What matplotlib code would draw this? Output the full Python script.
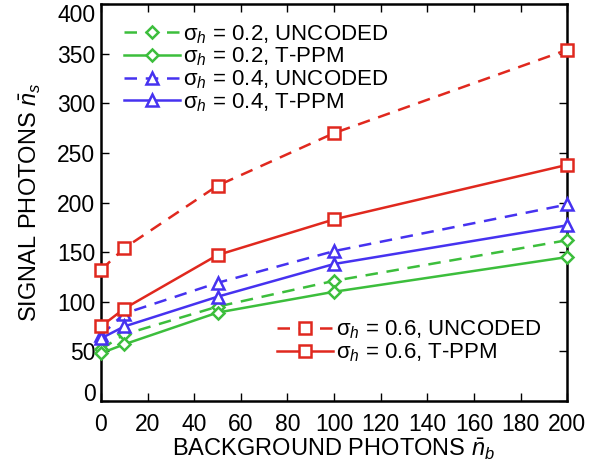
import numpy as np
import matplotlib
matplotlib.use('Agg')
import matplotlib.pyplot as plt

plt.rcParams['font.family'] = ['Liberation Sans', 'DejaVu Sans']
plt.rcParams['mathtext.fontset'] = 'custom'
plt.rcParams['mathtext.rm'] = 'Liberation Sans'
plt.rcParams['mathtext.it'] = 'Liberation Sans:italic'

# background photons
nb = [0, 10, 50, 100, 200]

# signal photons
uncoded_02 = [52, 67, 95, 121, 162]
tppm_02 = [48, 57, 89, 110, 145]
uncoded_04 = [66, 88, 119, 151, 198]
tppm_04 = [63, 75, 105, 138, 177]
uncoded_06 = [132, 154, 217, 270, 354]
tppm_06 = [75, 93, 147, 183, 238]

red = '#e0281e'
green = '#3cbe3c'
blue = '#4632f0'

fig = plt.figure(figsize=(5.94, 4.65), dpi=100)
ax = fig.add_axes([0.170, 0.138, 0.785, 0.853])

series = [
    (uncoded_02, green, 'D', (0, (5, 3.5)), r'σ$_h$ = 0.2, UNCODED'),
    (tppm_02, green, 'D', '-', r'σ$_h$ = 0.2, T-PPM'),
    (uncoded_04, blue, '^', (0, (5, 3.5)), r'σ$_h$ = 0.4, UNCODED'),
    (tppm_04, blue, '^', '-', r'σ$_h$ = 0.4, T-PPM'),
    (uncoded_06, red, 's', (0, (5, 3.5)), r'σ$_h$ = 0.6, UNCODED'),
    (tppm_06, red, 's', '-', r'σ$_h$ = 0.6, T-PPM'),
]

handles = []
for vals, col, mk, ls, lab in series:
    ms = 6.5 if mk == 'D' else 8
    line, = ax.plot(nb, vals, color=col, linestyle=ls, linewidth=1.8,
                    marker=mk, markersize=ms, markerfacecolor='white',
                    markeredgecolor=col, markeredgewidth=1.8, label=lab,
                    clip_on=False, zorder=3)
    handles.append(line)

ax.set_xlim(0, 200)
ax.set_ylim(0, 400)
ax.set_xticks(np.arange(0, 201, 20))
ax.set_yticks(np.arange(0, 401, 50))
ax.tick_params(direction='in', top=True, right=True, length=6, width=1,
               labelsize=16.5)
ax.tick_params(axis='x', pad=9)
ax.tick_params(axis='y', pad=4)
ylabels = ax.get_yticklabels()
ylabels[-1].set_verticalalignment('top')
ylabels[0].set_verticalalignment('baseline')
for s in ax.spines.values():
    s.set_linewidth(1.8)

ax.set_xlabel(r'BACKGROUND PHOTONS $\bar{n}_b$', fontsize=17, labelpad=0)
ax.set_ylabel(r'SIGNAL PHOTONS $\bar{n}_s$', fontsize=17, labelpad=10)

leg1 = ax.legend(handles=handles[:4], loc='center left',
                 bbox_to_anchor=(0.05, 0.838), frameon=False, fontsize=16,
                 handlelength=2.5, handletextpad=0.15, labelspacing=0,
                 borderpad=0, borderaxespad=0)
ax.add_artist(leg1)
ax.legend(handles=handles[4:], loc='center left',
          bbox_to_anchor=(0.378, 0.15), frameon=False, fontsize=16,
          handlelength=2.5, handletextpad=0.15, labelspacing=0,
          borderpad=0, borderaxespad=0)

fig.savefig('out.png', dpi=100)
